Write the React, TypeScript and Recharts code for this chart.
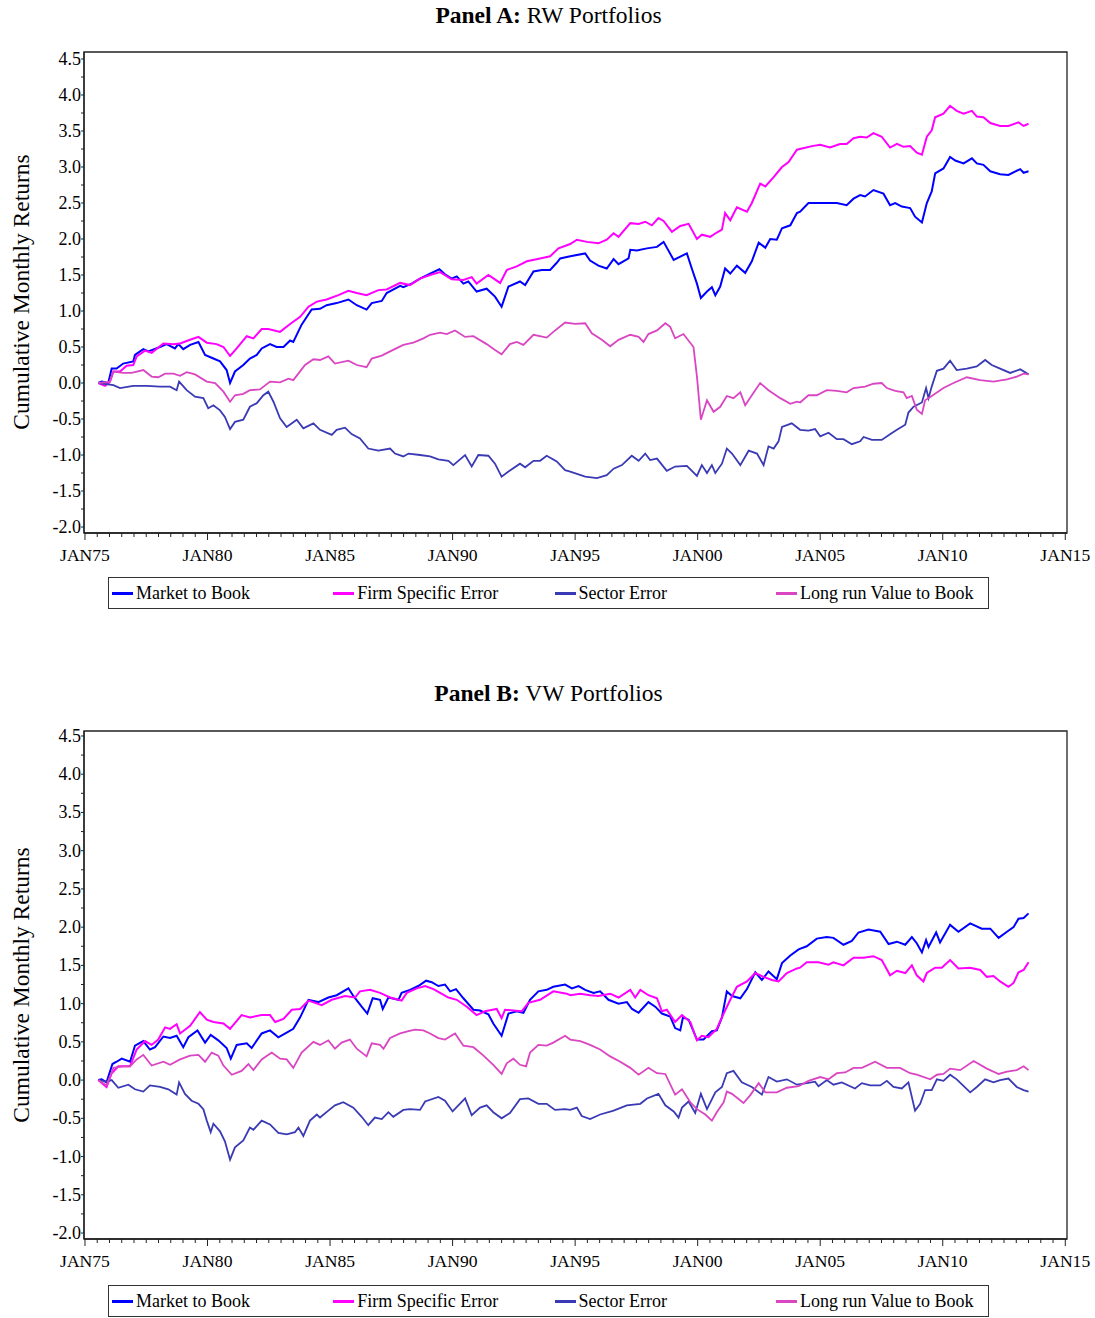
import React from "react";
import { LineChart, Line, XAxis, YAxis, ReferenceArea } from "recharts";

type Pt = [number, number];

// Panel A: RW portfolios (year, cumulative return)
const rwMarketToBook: Pt[] = [
  [1975.54, 0], [1975.68, 0.02], [1975.95, 0], [1976.09, 0.2], [1976.29, 0.2], [1976.56, 0.27], [1976.97, 0.3],
  [1977.04, 0.39], [1977.38, 0.47], [1977.59, 0.44], [1978.06, 0.5], [1978.33, 0.54], [1978.67, 0.48], [1978.81, 0.54],
  [1979.01, 0.47], [1979.29, 0.53], [1979.63, 0.57], [1979.9, 0.39], [1980.24, 0.34], [1980.51, 0.3], [1980.78, 0.18],
  [1980.92, 0], [1981.12, 0.16], [1981.46, 0.25], [1981.73, 0.34], [1982.01, 0.39], [1982.21, 0.48], [1982.55, 0.54],
  [1982.82, 0.5], [1983.1, 0.5], [1983.37, 0.59], [1983.5, 0.57], [1983.84, 0.81], [1984.25, 1.02], [1984.59, 1.03],
  [1984.86, 1.08], [1985.27, 1.11], [1985.75, 1.16], [1986.09, 1.08], [1986.49, 1.02], [1986.7, 1.11], [1987.11, 1.14],
  [1987.31, 1.25], [1987.86, 1.35], [1987.99, 1.33], [1988.33, 1.38], [1988.67, 1.45], [1989.08, 1.52], [1989.46, 1.58],
  [1989.69, 1.51], [1989.96, 1.45], [1990.17, 1.48], [1990.44, 1.38], [1990.64, 1.41], [1990.98, 1.27], [1991.39, 1.31],
  [1991.73, 1.2], [1992.0, 1.06], [1992.28, 1.34], [1992.75, 1.41], [1992.96, 1.36], [1993.3, 1.55], [1993.64, 1.57],
  [1993.98, 1.57], [1994.25, 1.67], [1994.39, 1.73], [1994.8, 1.76], [1995.41, 1.8], [1995.61, 1.7], [1995.95, 1.63],
  [1996.29, 1.59], [1996.57, 1.72], [1996.77, 1.65], [1997.18, 1.73], [1997.25, 1.85], [1997.52, 1.84], [1997.93, 1.87],
  [1998.34, 1.89], [1998.61, 1.96], [1999.02, 1.71], [1999.56, 1.8], [1999.76, 1.59], [1999.97, 1.38], [2000.13, 1.18],
  [2000.38, 1.27], [2000.58, 1.33], [2000.72, 1.22], [2000.92, 1.34], [2001.12, 1.59], [2001.33, 1.52], [2001.6, 1.63],
  [2001.94, 1.53], [2002.21, 1.69], [2002.49, 1.95], [2002.76, 1.88], [2002.96, 2.0], [2003.23, 1.99], [2003.44, 2.15],
  [2003.78, 2.19], [2004.05, 2.36], [2004.18, 2.38], [2004.52, 2.5], [2005.27, 2.5], [2005.68, 2.5], [2006.08, 2.47],
  [2006.36, 2.56], [2006.63, 2.61], [2006.83, 2.59], [2007.17, 2.68], [2007.58, 2.63], [2007.85, 2.47], [2008.06, 2.5],
  [2008.33, 2.45], [2008.67, 2.43], [2008.87, 2.31], [2009.15, 2.23], [2009.35, 2.5], [2009.55, 2.66], [2009.69, 2.91],
  [2010.03, 2.98], [2010.3, 3.14], [2010.51, 3.09], [2010.85, 3.05], [2011.19, 3.12], [2011.39, 3.05], [2011.66, 3.03],
  [2011.94, 2.94], [2012.34, 2.9], [2012.68, 2.89], [2013.16, 2.97], [2013.3, 2.92], [2013.5, 2.94],
];

const rwFirmSpecific: Pt[] = [
  [1975.54, 0], [1975.82, -0.04], [1976.02, 0.02], [1976.16, 0.16], [1976.43, 0.16], [1976.7, 0.24], [1976.97, 0.25],
  [1977.11, 0.37], [1977.45, 0.45], [1977.72, 0.42], [1978.2, 0.55], [1978.61, 0.54], [1978.88, 0.55], [1979.29, 0.6],
  [1979.63, 0.64], [1979.97, 0.56], [1980.37, 0.54], [1980.65, 0.5], [1980.92, 0.375], [1981.19, 0.48], [1981.6, 0.65],
  [1981.87, 0.62], [1982.21, 0.75], [1982.48, 0.75], [1982.96, 0.71], [1983.37, 0.82], [1983.78, 0.92], [1984.12, 1.06],
  [1984.46, 1.13], [1984.86, 1.16], [1985.34, 1.22], [1985.75, 1.28], [1986.09, 1.25], [1986.49, 1.22], [1986.97, 1.29],
  [1987.31, 1.3], [1987.86, 1.39], [1988.26, 1.36], [1988.67, 1.45], [1989.08, 1.5], [1989.49, 1.54], [1989.96, 1.44],
  [1990.44, 1.43], [1990.78, 1.47], [1990.98, 1.38], [1991.46, 1.5], [1991.94, 1.39], [1992.21, 1.57], [1992.62, 1.62],
  [1993.03, 1.69], [1993.57, 1.73], [1993.98, 1.76], [1994.32, 1.87], [1994.8, 1.93], [1995.07, 1.99], [1995.48, 1.96],
  [1995.95, 1.94], [1996.29, 1.99], [1996.57, 2.08], [1996.77, 2.03], [1997.25, 2.22], [1997.59, 2.21], [1997.86, 2.24],
  [1998.13, 2.19], [1998.4, 2.29], [1998.61, 2.25], [1998.95, 2.1], [1999.29, 2.18], [1999.63, 2.21], [1999.97, 2.0],
  [2000.17, 2.06], [2000.51, 2.03], [2000.78, 2.09], [2000.99, 2.13], [2001.12, 2.36], [2001.33, 2.26], [2001.6, 2.44],
  [2002.01, 2.38], [2002.21, 2.5], [2002.55, 2.77], [2002.76, 2.73], [2003.1, 2.86], [2003.44, 3.0], [2003.71, 3.07],
  [2004.05, 3.24], [2004.66, 3.29], [2005.0, 3.31], [2005.4, 3.27], [2005.81, 3.32], [2006.08, 3.32], [2006.36, 3.4],
  [2006.63, 3.42], [2006.9, 3.41], [2007.17, 3.47], [2007.51, 3.42], [2007.85, 3.27], [2008.13, 3.32], [2008.4, 3.28],
  [2008.67, 3.29], [2008.94, 3.2], [2009.15, 3.17], [2009.35, 3.42], [2009.55, 3.51], [2009.69, 3.69], [2010.03, 3.74],
  [2010.3, 3.85], [2010.57, 3.78], [2010.85, 3.74], [2011.19, 3.78], [2011.39, 3.7], [2011.66, 3.69], [2011.94, 3.61],
  [2012.34, 3.57], [2012.68, 3.57], [2013.09, 3.62], [2013.3, 3.57], [2013.5, 3.6],
];

const rwSector: Pt[] = [
  [1975.54, 0], [1976.16, -0.03], [1976.43, -0.07], [1976.97, -0.04], [1977.52, -0.04], [1978.06, -0.05], [1978.47, -0.05],
  [1978.74, -0.1], [1978.84, 0.02], [1979.15, -0.1], [1979.49, -0.19], [1979.83, -0.21], [1980.03, -0.35], [1980.24, -0.31],
  [1980.51, -0.38], [1980.71, -0.47], [1980.92, -0.64], [1981.12, -0.54], [1981.46, -0.51], [1981.73, -0.33], [1982.01, -0.28],
  [1982.28, -0.17], [1982.48, -0.12], [1982.69, -0.26], [1982.96, -0.49], [1983.23, -0.61], [1983.64, -0.51], [1983.91, -0.63],
  [1984.32, -0.56], [1984.59, -0.65], [1985.07, -0.72], [1985.27, -0.65], [1985.61, -0.62], [1985.88, -0.71], [1986.22, -0.77],
  [1986.56, -0.91], [1986.97, -0.94], [1987.45, -0.91], [1987.65, -0.98], [1987.99, -1.02], [1988.2, -0.98], [1988.67, -1.0],
  [1989.08, -1.02], [1989.42, -1.06], [1989.83, -1.08], [1990.03, -1.14], [1990.51, -1.0], [1990.78, -1.16], [1991.05, -1.0],
  [1991.46, -1.01], [1991.73, -1.12], [1992.0, -1.3], [1992.28, -1.23], [1992.75, -1.12], [1992.96, -1.17], [1993.3, -1.08],
  [1993.57, -1.08], [1993.84, -1.01], [1994.25, -1.09], [1994.59, -1.21], [1994.8, -1.23], [1995.41, -1.3], [1995.89, -1.32],
  [1996.29, -1.28], [1996.57, -1.19], [1996.91, -1.14], [1997.31, -1.01], [1997.59, -1.08], [1997.86, -0.98], [1998.06, -1.07],
  [1998.34, -1.05], [1998.74, -1.22], [1999.08, -1.16], [1999.56, -1.15], [1999.97, -1.29], [2000.17, -1.14], [2000.38, -1.25],
  [2000.58, -1.14], [2000.72, -1.25], [2000.99, -1.12], [2001.19, -0.91], [2001.4, -0.98], [2001.74, -1.14], [2002.08, -0.94],
  [2002.42, -0.98], [2002.69, -1.14], [2002.89, -0.88], [2003.1, -0.91], [2003.3, -0.81], [2003.44, -0.61], [2003.84, -0.56],
  [2004.18, -0.65], [2004.52, -0.66], [2004.79, -0.64], [2005.0, -0.74], [2005.34, -0.69], [2005.68, -0.78], [2005.95, -0.78],
  [2006.29, -0.85], [2006.63, -0.81], [2006.77, -0.75], [2007.11, -0.79], [2007.51, -0.79], [2007.85, -0.71], [2008.13, -0.65],
  [2008.47, -0.58], [2008.6, -0.41], [2008.81, -0.33], [2009.15, -0.27], [2009.32, -0.07], [2009.42, -0.21], [2009.55, -0.05],
  [2009.76, 0.17], [2010.03, 0.2], [2010.3, 0.31], [2010.57, 0.18], [2010.98, 0.2], [2011.39, 0.23], [2011.73, 0.32],
  [2012.0, 0.25], [2012.34, 0.2], [2012.75, 0.14], [2013.16, 0.19], [2013.5, 0.12],
];

const rwLongRunVB: Pt[] = [
  [1975.54, 0], [1976.02, 0.02], [1976.16, 0.16], [1976.56, 0.14], [1976.9, 0.14], [1977.38, 0.18], [1977.72, 0.09],
  [1977.99, 0.08], [1978.27, 0.13], [1978.61, 0.13], [1978.88, 0.1], [1979.15, 0.15], [1979.49, 0.12], [1979.97, 0.02],
  [1980.31, 0], [1980.65, -0.12], [1980.92, -0.26], [1981.12, -0.17], [1981.46, -0.15], [1981.73, -0.1], [1982.14, -0.09],
  [1982.55, 0.02], [1982.96, 0.01], [1983.3, 0.06], [1983.5, 0.04], [1983.98, 0.25], [1984.32, 0.33], [1984.59, 0.32],
  [1984.93, 0.37], [1985.2, 0.27], [1985.75, 0.31], [1986.09, 0.25], [1986.49, 0.22], [1986.7, 0.34], [1987.11, 0.38],
  [1987.45, 0.44], [1987.99, 0.53], [1988.4, 0.56], [1988.81, 0.62], [1989.08, 0.67], [1989.49, 0.7], [1989.76, 0.68],
  [1990.1, 0.73], [1990.51, 0.64], [1990.85, 0.65], [1991.39, 0.54], [1991.73, 0.46], [1992.0, 0.4], [1992.34, 0.54],
  [1992.62, 0.57], [1992.89, 0.53], [1993.3, 0.67], [1993.84, 0.63], [1994.11, 0.71], [1994.59, 0.84], [1995.0, 0.82],
  [1995.41, 0.83], [1995.68, 0.69], [1996.09, 0.6], [1996.43, 0.51], [1996.77, 0.6], [1997.25, 0.67], [1997.59, 0.64],
  [1997.79, 0.57], [1997.99, 0.68], [1998.34, 0.73], [1998.68, 0.83], [1998.88, 0.78], [1999.08, 0.62], [1999.42, 0.68],
  [1999.83, 0.5], [1999.97, 0.09], [2000.13, -0.51], [2000.38, -0.24], [2000.65, -0.4], [2000.92, -0.33], [2001.19, -0.18],
  [2001.46, -0.21], [2001.74, -0.13], [2001.94, -0.31], [2002.21, -0.17], [2002.55, 0.0], [2002.89, -0.1], [2003.37, -0.21],
  [2003.78, -0.29], [2004.05, -0.26], [2004.18, -0.27], [2004.52, -0.17], [2004.86, -0.17], [2005.27, -0.1], [2005.68, -0.11],
  [2006.08, -0.13], [2006.36, -0.07], [2006.83, -0.05], [2007.17, -0.01], [2007.51, 0.0], [2007.72, -0.07], [2008.06, -0.11],
  [2008.4, -0.13], [2008.53, -0.21], [2008.74, -0.18], [2008.94, -0.37], [2009.15, -0.43], [2009.28, -0.24], [2009.55, -0.18],
  [2010.03, -0.07], [2010.44, 0.0], [2010.98, 0.08], [2011.53, 0.04], [2012.07, 0.02], [2012.62, 0.05], [2013.02, 0.09],
  [2013.3, 0.13], [2013.5, 0.12],
];

// Panel B: VW portfolios
const vwMarketToBook: Pt[] = [
  [1975.54, 0], [1975.68, 0.01], [1975.88, -0.03], [1976.12, 0.21], [1976.29, 0.24], [1976.5, 0.28], [1976.84, 0.24],
  [1977.04, 0.45], [1977.38, 0.51], [1977.65, 0.4], [1977.86, 0.43], [1978.2, 0.57], [1978.47, 0.55], [1978.74, 0.58],
  [1979.01, 0.43], [1979.22, 0.56], [1979.59, 0.65], [1979.9, 0.49], [1980.13, 0.59], [1980.44, 0.52], [1980.78, 0.42],
  [1980.95, 0.28], [1981.19, 0.46], [1981.6, 0.48], [1981.8, 0.42], [1982.21, 0.61], [1982.55, 0.65], [1982.89, 0.56],
  [1983.23, 0.62], [1983.5, 0.67], [1983.78, 0.82], [1984.12, 1.05], [1984.52, 1.02], [1984.93, 1.08], [1985.27, 1.11],
  [1985.75, 1.2], [1985.95, 1.1], [1986.29, 0.96], [1986.52, 0.87], [1986.74, 1.07], [1987.04, 1.05], [1987.15, 0.93],
  [1987.38, 1.08], [1987.79, 1.05], [1987.92, 1.14], [1988.26, 1.18], [1988.6, 1.23], [1988.92, 1.3], [1989.15, 1.28],
  [1989.42, 1.23], [1989.69, 1.25], [1989.9, 1.16], [1990.14, 1.19], [1990.44, 1.07], [1990.85, 0.92], [1991.12, 0.91],
  [1991.46, 0.86], [1991.66, 0.74], [1992.0, 0.58], [1992.28, 0.87], [1992.62, 0.9], [1992.89, 0.88], [1993.16, 1.05],
  [1993.5, 1.16], [1993.84, 1.18], [1994.11, 1.22], [1994.59, 1.25], [1994.87, 1.2], [1995.14, 1.23], [1995.41, 1.18],
  [1995.75, 1.14], [1996.02, 1.16], [1996.36, 1.05], [1996.77, 1.0], [1997.11, 1.02], [1997.32, 0.93], [1997.59, 0.88],
  [1997.99, 1.02], [1998.27, 0.96], [1998.54, 0.87], [1998.88, 0.83], [1999.08, 0.68], [1999.29, 0.65], [1999.4, 0.82],
  [1999.63, 0.79], [1999.97, 0.53], [2000.24, 0.53], [2000.58, 0.64], [2000.78, 0.65], [2000.99, 0.82], [2001.19, 1.16],
  [2001.4, 1.1], [2001.74, 1.07], [2002.01, 1.19], [2002.35, 1.41], [2002.62, 1.31], [2002.89, 1.42], [2003.23, 1.32],
  [2003.44, 1.53], [2003.78, 1.63], [2004.12, 1.71], [2004.45, 1.75], [2004.86, 1.85], [2005.27, 1.87], [2005.54, 1.86],
  [2005.95, 1.77], [2006.29, 1.82], [2006.56, 1.93], [2006.97, 1.97], [2007.45, 1.94], [2007.79, 1.78], [2008.13, 1.81],
  [2008.47, 1.77], [2008.74, 1.87], [2008.94, 1.79], [2009.15, 1.67], [2009.32, 1.83], [2009.42, 1.74], [2009.73, 1.93],
  [2009.89, 1.8], [2010.3, 2.03], [2010.64, 1.94], [2011.12, 2.05], [2011.59, 1.98], [2011.94, 1.98], [2012.28, 1.86],
  [2012.62, 1.94], [2012.89, 2.0], [2013.09, 2.11], [2013.3, 2.12], [2013.5, 2.18],
];

const vwFirmSpecific: Pt[] = [
  [1975.54, 0], [1975.88, -0.09], [1976.09, 0.09], [1976.36, 0.18], [1976.84, 0.18], [1977.11, 0.4], [1977.45, 0.51],
  [1977.72, 0.46], [1977.99, 0.53], [1978.27, 0.69], [1978.47, 0.67], [1978.74, 0.73], [1978.88, 0.61], [1979.29, 0.71],
  [1979.69, 0.89], [1979.97, 0.79], [1980.24, 0.76], [1980.65, 0.74], [1980.92, 0.67], [1981.39, 0.85], [1981.73, 0.82],
  [1982.21, 0.85], [1982.55, 0.85], [1982.76, 0.76], [1983.1, 0.8], [1983.44, 0.92], [1983.78, 0.93], [1984.12, 1.04],
  [1984.66, 0.98], [1985.07, 1.05], [1985.61, 1.1], [1986.02, 1.08], [1986.22, 1.16], [1986.63, 1.18], [1987.04, 1.14],
  [1987.45, 1.08], [1987.92, 1.04], [1988.13, 1.14], [1988.54, 1.2], [1988.88, 1.23], [1989.22, 1.19], [1989.49, 1.14],
  [1989.83, 1.08], [1990.17, 1.05], [1990.58, 0.96], [1990.98, 0.85], [1991.32, 0.9], [1991.8, 0.93], [1992.0, 0.81],
  [1992.14, 0.92], [1992.48, 0.91], [1992.82, 0.9], [1993.09, 1.01], [1993.57, 1.05], [1994.11, 1.16], [1994.66, 1.13],
  [1994.8, 1.11], [1995.21, 1.13], [1995.61, 1.11], [1995.95, 1.1], [1996.43, 1.13], [1996.77, 1.08], [1997.25, 1.18],
  [1997.45, 1.08], [1997.66, 1.18], [1997.99, 1.11], [1998.34, 1.07], [1998.54, 0.9], [1998.74, 0.92], [1999.08, 0.76],
  [1999.36, 0.85], [1999.7, 0.76], [1999.97, 0.52], [2000.17, 0.58], [2000.44, 0.56], [2000.78, 0.67], [2001.06, 0.87],
  [2001.33, 1.05], [2001.6, 1.22], [2002.01, 1.29], [2002.35, 1.4], [2002.69, 1.35], [2003.03, 1.31], [2003.3, 1.29],
  [2003.64, 1.4], [2004.05, 1.46], [2004.18, 1.47], [2004.45, 1.54], [2004.93, 1.54], [2005.34, 1.51], [2005.54, 1.54],
  [2005.95, 1.5], [2006.36, 1.6], [2006.77, 1.6], [2007.17, 1.62], [2007.51, 1.57], [2007.85, 1.37], [2008.13, 1.43],
  [2008.47, 1.4], [2008.74, 1.5], [2008.94, 1.37], [2009.21, 1.29], [2009.35, 1.4], [2009.69, 1.47], [2009.96, 1.47],
  [2010.3, 1.57], [2010.64, 1.46], [2011.12, 1.47], [2011.53, 1.44], [2011.8, 1.35], [2012.07, 1.36], [2012.34, 1.29],
  [2012.68, 1.22], [2012.89, 1.27], [2013.09, 1.41], [2013.3, 1.44], [2013.5, 1.54],
];

const vwSector: Pt[] = [
  [1975.54, 0], [1975.88, -0.02], [1976.09, 0], [1976.36, -0.1], [1976.77, -0.06], [1977.04, -0.12], [1977.38, -0.15],
  [1977.65, -0.07], [1978.06, -0.09], [1978.4, -0.12], [1978.74, -0.19], [1978.84, -0.03], [1979.08, -0.18], [1979.35, -0.27],
  [1979.63, -0.31], [1979.83, -0.38], [1979.97, -0.53], [1980.13, -0.68], [1980.24, -0.57], [1980.51, -0.67], [1980.71, -0.8],
  [1980.92, -1.04], [1981.12, -0.88], [1981.46, -0.79], [1981.73, -0.62], [1981.87, -0.65], [1982.21, -0.53], [1982.55, -0.58],
  [1982.89, -0.69], [1983.23, -0.71], [1983.57, -0.68], [1983.71, -0.62], [1983.91, -0.73], [1984.18, -0.53], [1984.46, -0.45],
  [1984.59, -0.49], [1984.93, -0.4], [1985.2, -0.33], [1985.54, -0.29], [1985.95, -0.36], [1986.29, -0.48], [1986.56, -0.59],
  [1986.83, -0.49], [1987.11, -0.51], [1987.38, -0.42], [1987.58, -0.48], [1987.99, -0.39], [1988.26, -0.38], [1988.67, -0.39],
  [1988.88, -0.28], [1989.42, -0.22], [1989.69, -0.27], [1990.0, -0.41], [1990.51, -0.24], [1990.78, -0.46], [1991.12, -0.36],
  [1991.39, -0.33], [1991.66, -0.42], [1992.0, -0.5], [1992.34, -0.43], [1992.75, -0.25], [1993.09, -0.24], [1993.5, -0.31],
  [1993.84, -0.31], [1994.18, -0.39], [1994.59, -0.38], [1994.8, -0.39], [1995.07, -0.36], [1995.27, -0.47], [1995.61, -0.51],
  [1996.02, -0.45], [1996.57, -0.4], [1997.11, -0.33], [1997.66, -0.31], [1997.93, -0.24], [1998.4, -0.18], [1998.68, -0.33],
  [1999.02, -0.41], [1999.22, -0.49], [1999.36, -0.36], [1999.63, -0.28], [1999.9, -0.43], [2000.13, -0.18], [2000.38, -0.38],
  [2000.72, -0.16], [2000.99, -0.09], [2001.19, 0.09], [2001.46, 0.12], [2001.8, -0.03], [2002.21, -0.09], [2002.62, -0.19],
  [2002.89, 0.04], [2003.23, -0.02], [2003.64, 0.01], [2004.05, -0.06], [2004.45, -0.04], [2004.79, -0.02], [2004.93, -0.08],
  [2005.27, 0], [2005.54, -0.06], [2005.88, -0.03], [2006.42, -0.11], [2006.7, -0.04], [2007.04, -0.07], [2007.45, -0.07],
  [2007.72, -0.01], [2007.99, -0.09], [2008.33, -0.11], [2008.6, -0.03], [2008.87, -0.4], [2009.08, -0.31], [2009.28, -0.13],
  [2009.55, -0.13], [2009.76, 0.01], [2010.03, -0.01], [2010.3, 0.07], [2010.57, 0.01], [2011.12, -0.16], [2011.39, -0.09],
  [2011.73, 0.01], [2012.07, -0.03], [2012.34, 0], [2012.68, 0.02], [2013.02, -0.09], [2013.3, -0.13], [2013.5, -0.15],
];

const vwLongRunVB: Pt[] = [
  [1975.54, 0], [1975.88, -0.07], [1976.16, 0.16], [1976.56, 0.18], [1976.84, 0.18], [1977.11, 0.27], [1977.38, 0.33],
  [1977.72, 0.19], [1978.2, 0.24], [1978.47, 0.2], [1978.88, 0.27], [1979.29, 0.32], [1979.63, 0.33], [1979.9, 0.24],
  [1980.17, 0.36], [1980.44, 0.32], [1980.65, 0.19], [1980.99, 0.07], [1981.39, 0.12], [1981.67, 0.21], [1981.87, 0.13],
  [1982.21, 0.27], [1982.62, 0.36], [1982.96, 0.28], [1983.23, 0.27], [1983.5, 0.16], [1983.84, 0.36], [1984.32, 0.5],
  [1984.59, 0.46], [1984.93, 0.52], [1985.2, 0.41], [1985.47, 0.49], [1985.81, 0.53], [1986.09, 0.41], [1986.49, 0.31],
  [1986.7, 0.48], [1987.04, 0.46], [1987.18, 0.41], [1987.45, 0.55], [1987.86, 0.61], [1988.2, 0.64], [1988.47, 0.66],
  [1988.81, 0.65], [1989.08, 0.61], [1989.42, 0.55], [1989.69, 0.53], [1990.1, 0.61], [1990.44, 0.45], [1990.85, 0.43],
  [1991.26, 0.32], [1991.66, 0.2], [1992.0, 0.08], [1992.21, 0.22], [1992.48, 0.28], [1992.75, 0.2], [1993.0, 0.18],
  [1993.16, 0.36], [1993.5, 0.46], [1993.84, 0.45], [1994.11, 0.49], [1994.59, 0.58], [1994.8, 0.53], [1995.21, 0.51],
  [1995.61, 0.46], [1996.02, 0.4], [1996.43, 0.31], [1996.84, 0.24], [1997.25, 0.16], [1997.59, 0.07], [1997.99, 0.16],
  [1998.34, 0.09], [1998.68, 0.08], [1999.08, -0.19], [1999.36, -0.12], [1999.7, -0.29], [1999.97, -0.38], [2000.31, -0.45],
  [2000.58, -0.53], [2000.78, -0.42], [2001.06, -0.29], [2001.19, -0.15], [2001.4, -0.18], [2001.87, -0.3], [2002.14, -0.2],
  [2002.49, -0.04], [2002.76, -0.16], [2003.23, -0.16], [2003.64, -0.1], [2004.12, -0.08], [2004.52, -0.01], [2005.0, 0.04],
  [2005.34, 0.01], [2005.68, 0.09], [2006.02, 0.1], [2006.36, 0.16], [2006.7, 0.16], [2007.24, 0.24], [2007.72, 0.16],
  [2008.26, 0.16], [2008.67, 0.09], [2008.94, 0.07], [2009.49, 0.01], [2009.76, 0.07], [2010.03, 0.08], [2010.3, 0.15],
  [2010.71, 0.13], [2011.26, 0.25], [2011.8, 0.15], [2012.28, 0.08], [2012.62, 0.11], [2013.02, 0.13], [2013.3, 0.18],
  [2013.5, 0.13],
];

const seriesNames = ["Market to Book", "Firm Specific Error", "Sector Error", "Long run Value to Book"];
const seriesColors = ["#0000FF", "#FF00FF", "#3A3AB5", "#DA46C2"];
const majorYears = [1975, 1980, 1985, 1990, 1995, 2000, 2005, 2010, 2015];
const yLabels = [-2, -1.5, -1, -0.5, 0, 0.5, 1, 1.5, 2, 2.5, 3, 3.5, 4, 4.5];

const FONT = "'Liberation Serif', 'Times New Roman', serif";
const X_DOMAIN: [number, number] = [1974.96, 2015.07];

// half-year minor ticks on x, quarter ticks on y
const xTicks: number[] = [];
for (let i = 0; i <= 80; i++) xTicks.push(1975 + i * 0.5);
const yTicks: number[] = [];
for (let i = 0; i <= 26; i++) yTicks.push(-2 + i * 0.25);

const toRows = (pts: Pt[]) => pts.map(([t, v]) => ({ t, v }));

const XTick = ({ x, y, payload }: any) => {
  const v = payload.value;
  const major = majorYears.some((m) => Math.abs(m - v) < 1e-6);
  const yy = String(Math.round(v) % 100).padStart(2, "0");
  return (
    <g>
      <line x1={x} x2={x} y1={y} y2={y + (major ? 7 : 4)} stroke="#222" strokeWidth={1} />
      {major && (
        <text x={x} y={y + 22} textAnchor="middle" dominantBaseline="central" fontFamily={FONT} fontSize={17.6} fill="#000">
          {`JAN${yy}`}
        </text>
      )}
    </g>
  );
};

const YTick = ({ x, y, payload }: any) => {
  const v = payload.value;
  const major = yLabels.some((m) => Math.abs(m - v) < 1e-6);
  return (
    <g>
      <line x1={x - 3} x2={x} y1={y} y2={y} stroke="#222" strokeWidth={1} />
      {major && (
        <text x={x - 3} y={y} textAnchor="end" dominantBaseline="central" fontFamily={FONT} fontSize={18} fill="#000">
          {v.toFixed(1)}
        </text>
      )}
    </g>
  );
};

interface PanelProps {
  top: number;
  height: number;
  marginTop: number;
  yDomain: [number, number];
  label: string;
  subtitle: string;
  titleY: number;
  axisLabelY: number;
  legendTop: number;
  series: Pt[][];
}

function Panel({ top, height, marginTop, yDomain, label, subtitle, titleY, axisLabelY, legendTop, series }: PanelProps) {
  return (
    <>
      <div
        style={{
          position: "absolute",
          left: 0,
          width: 1097,
          top: titleY - 14,
          textAlign: "center",
          fontFamily: FONT,
          fontSize: 23.5,
          lineHeight: "28px",
          color: "#000",
        }}
      >
        <b>{label}</b> {subtitle}
      </div>
      <div
        style={{
          position: "absolute",
          left: 21,
          top: axisLabelY,
          transform: "translate(-50%, -50%) rotate(-90deg)",
          whiteSpace: "nowrap",
          fontFamily: FONT,
          fontSize: 23.5,
          color: "#000",
        }}
      >
        Cumulative Monthly Returns
      </div>
      <div style={{ position: "absolute", left: 0, top }}>
        <LineChart width={1095} height={height} margin={{ top: marginTop, right: 28, bottom: 0, left: 0 }}>
          <XAxis
            type="number"
            dataKey="t"
            domain={X_DOMAIN}
            ticks={xTicks}
            interval={0}
            allowDataOverflow
            height={42}
            tickSize={0}
            tickMargin={0}
            tickLine={false}
            tick={<XTick />}
            axisLine={{ stroke: "#222", strokeWidth: 1.3 }}
          />
          <YAxis
            type="number"
            domain={yDomain}
            ticks={yTicks}
            interval={0}
            allowDataOverflow
            width={84}
            tickSize={0}
            tickMargin={0}
            tickLine={false}
            tick={<YTick />}
            axisLine={{ stroke: "#222", strokeWidth: 1.3 }}
          />
          <ReferenceArea
            x1={X_DOMAIN[0]}
            x2={X_DOMAIN[1]}
            y1={yDomain[0]}
            y2={yDomain[1]}
            fill="none"
            stroke="#222"
            strokeWidth={1.3}
            ifOverflow="visible"
          />
          {series.map((pts, i) => (
            <Line
              key={seriesNames[i]}
              data={toRows(pts)}
              dataKey="v"
              name={seriesNames[i]}
              type="linear"
              stroke={seriesColors[i]}
              strokeWidth={i < 2 ? 2 : 1.8}
              dot={false}
              activeDot={false}
              isAnimationActive={false}
            />
          ))}
        </LineChart>
      </div>
      <div
        style={{
          position: "absolute",
          left: 108,
          top: legendTop,
          width: 879,
          height: 30,
          border: "1px solid #333",
          fontFamily: FONT,
          fontSize: 18,
          color: "#000",
        }}
      >
        {seriesNames.map((name, i) => (
          <div
            key={name}
            style={{ position: "absolute", left: 3 + i * 221.3, top: 0, height: 30, display: "flex", alignItems: "center" }}
          >
            <span style={{ display: "inline-block", width: 21, height: 3, background: seriesColors[i], marginRight: 3 }} />
            {name}
          </div>
        ))}
      </div>
    </>
  );
}

export default function App() {
  return (
    <div style={{ position: "absolute", left: 0, top: 0, width: 1095, height: 1318, background: "#fff" }}>
      <Panel
        top={0}
        height={575}
        marginTop={52}
        yDomain={[-2.083, 4.597]}
        label="Panel A:"
        subtitle="RW Portfolios"
        titleY={15}
        axisLabelY={292}
        legendTop={577}
        series={[rwMarketToBook, rwFirmSpecific, rwSector, rwLongRunVB]}
      />
      <Panel
        top={680}
        height={601}
        marginTop={51}
        yDomain={[-2.078, 4.565]}
        label="Panel B:"
        subtitle="VW Portfolios"
        titleY={693}
        axisLabelY={985}
        legendTop={1285}
        series={[vwMarketToBook, vwFirmSpecific, vwSector, vwLongRunVB]}
      />
    </div>
  );
}
